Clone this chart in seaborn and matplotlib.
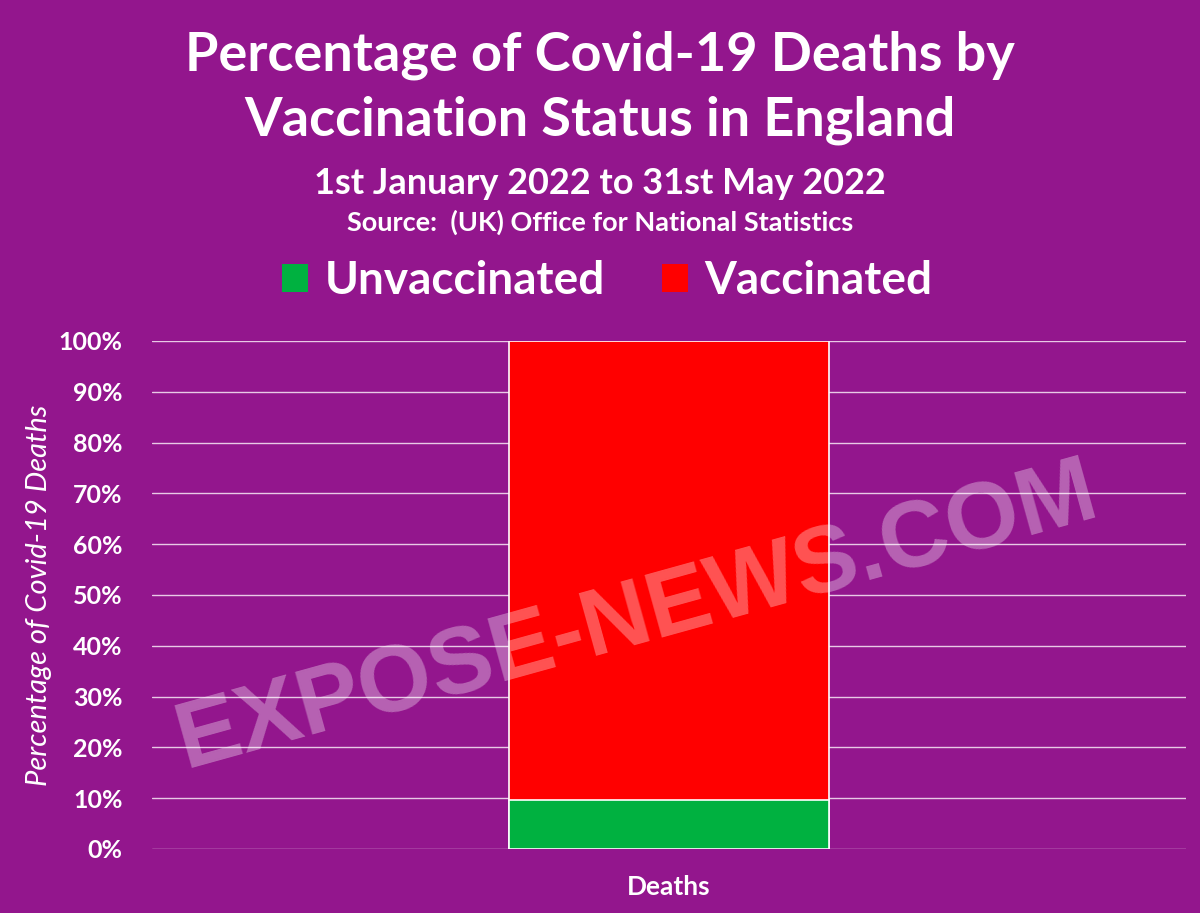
import matplotlib
matplotlib.use("Agg")
import matplotlib.pyplot as plt
import seaborn as sns
import pandas as pd
from matplotlib.patches import Patch

categories = ["Deaths"]
unvaccinated = [9.6]
vaccinated = [90.4]
series_names = ["Unvaccinated", "Vaccinated"]
yticks = [0, 10, 20, 30, 40, 50, 60, 70, 80, 90, 100]
ytick_labels = [f"{v}%" for v in yticks]

BG = "#93168D"
GREEN = "#00B140"
RED = "#FF0000"

sns.set_theme(style="white")
plt.rcParams['font.family'] = ['Lato', 'DejaVu Sans']

fig = plt.figure(figsize=(12, 9.13), dpi=100, facecolor=BG)
ax = fig.add_axes([152/1200, 1 - 849/913, (1186-152)/1200, (849-341)/913])
ax.set_facecolor(BG)

df = pd.DataFrame({"cat": categories, "Unvaccinated": unvaccinated, "Vaccinated": vaccinated})
df["total"] = df["Unvaccinated"] + df["Vaccinated"]

sns.barplot(data=df, x="cat", y="total", color=RED, width=0.31, ax=ax, saturation=1,
            edgecolor="white", linewidth=1.2, zorder=3)
sns.barplot(data=df, x="cat", y="Unvaccinated", color=GREEN, width=0.31, ax=ax, saturation=1,
            edgecolor="white", linewidth=1.2, zorder=4)

ax.set_ylim(0, 100)
ax.set_yticks(yticks)
ax.set_yticklabels(ytick_labels, color="white", fontsize=18, fontweight="bold")
ax.set_xticks([0])
ax.set_xticklabels(categories, color="white", fontsize=19, fontweight="bold")
ax.tick_params(axis="y", length=0, pad=21)
ax.tick_params(axis="x", length=0, pad=19)
ax.yaxis.grid(True, color="#E9C9E6", linewidth=1.0, zorder=0)
ax.set_axisbelow(True)
for s in ax.spines.values():
    s.set_visible(False)
ax.set_xlabel("")
ax.set_ylabel("Percentage of Covid-19 Deaths", color="white", fontsize=21,
              fontstyle="italic")
ax.yaxis.set_label_coords(-0.097, 0.5)

fig.text(0.5, 1 - 55/913, "Percentage of Covid-19 Deaths by", ha="center", va="center",
         color="white", fontsize=39, fontweight="bold")
fig.text(0.5, 1 - 120/913, "Vaccination Status in England", ha="center", va="center",
         color="white", fontsize=39, fontweight="bold")
fig.text(0.5, 1 - 183/913, "1st January 2022 to 31st May 2022", ha="center", va="center",
         color="white", fontsize=26, fontweight="bold")
fig.text(0.5, 1 - 222/913, "Source:  (UK) Office for National Statistics", ha="center", va="center",
         color="white", fontsize=19.5, fontweight="bold")

handles = [Patch(facecolor=GREEN, edgecolor="none"), Patch(facecolor=RED, edgecolor="none")]
leg = fig.legend(handles, series_names, loc="center", bbox_to_anchor=(0.506, 1 - 281/913),
                 ncol=2, frameon=False, fontsize=33, handlelength=0.57, handleheight=0.57,
                 handletextpad=0.35, columnspacing=1.25)
for t in leg.get_texts():
    t.set_color("white")
    t.set_fontweight("bold")

fig.text(0.531, 1 - 617/913, "EXPOSE-NEWS.COM", ha="center", va="center", rotation=15.5,
         color="white", alpha=0.33, fontsize=68, family=["Liberation Sans", "DejaVu Sans"],
         fontweight="bold", zorder=10)

fig.savefig("out.png", dpi=100, facecolor=BG)
